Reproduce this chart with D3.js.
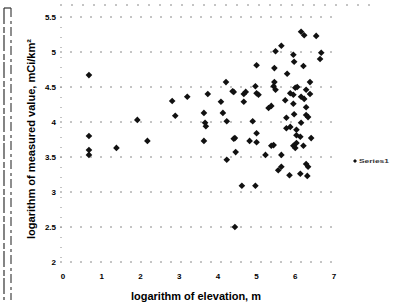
<!DOCTYPE html>
<html>
<head>
<meta charset="utf-8">
<script src="https://cdn.jsdelivr.net/npm/d3@7"></script>
<style>
    body { margin: 0; background: #fff; }
    svg { display: block; }
</style>
</head>
<body>
<div id="vis"></div>
<script>
const elevationLog = [
    0.67, 0.67, 0.67, 0.67, 1.38, 1.92, 2.18, 2.82, 2.90, 3.21,
    3.64, 3.67, 3.69, 3.64, 3.74, 4.08, 4.13, 4.23, 4.21, 4.38,
    4.44, 4.67, 4.67, 4.72, 4.90, 4.82, 5.00, 5.00, 5.00, 4.97,
    5.00, 5.05, 5.31, 4.41, 4.41, 5.38, 5.44, 5.49, 5.74, 5.87,
    6.00, 5.77, 5.87, 6.03, 6.03, 5.44, 6.00, 6.15, 6.23, 6.54,
    5.64, 5.49, 6.67, 5.95, 6.64, 5.97, 6.21, 5.46, 5.79, 5.46,
    6.38, 6.05, 5.95, 6.28, 6.38, 6.15, 6.23, 5.95, 6.28, 5.97,
    6.28, 6.33, 6.15, 5.77, 6.03, 6.13, 6.41, 5.38, 5.95, 6.21,
    4.46, 4.23, 5.23, 5.64, 5.56, 5.64, 5.85, 6.28, 6.33, 6.13,
    6.31, 4.62, 4.97, 4.44
];
const measuredLog = [
    4.67, 3.80, 3.60, 3.53, 3.63, 4.03, 3.73, 4.30, 4.09, 4.36,
    4.13, 3.99, 3.94, 3.73, 4.40, 4.29, 4.13, 4.01, 4.57, 4.44,
    3.77, 4.29, 4.40, 4.43, 4.01, 3.73, 4.81, 3.84, 3.71, 4.51,
    4.41, 4.39, 4.20, 4.43, 3.76, 4.23, 4.51, 4.46, 4.31, 4.41,
    4.49, 4.06, 3.93, 3.89, 3.70, 3.67, 3.63, 5.29, 5.24, 5.23,
    5.09, 5.01, 4.99, 4.96, 4.90, 4.86, 4.80, 4.77, 4.69, 4.57,
    4.57, 4.50, 4.39, 4.46, 4.40, 4.36, 4.33, 4.26, 4.21, 4.11,
    4.10, 4.07, 3.99, 3.91, 3.81, 3.79, 3.77, 3.66, 3.66, 3.66,
    3.57, 3.46, 3.53, 3.53, 3.31, 3.36, 3.24, 3.40, 3.36, 3.26,
    3.23, 3.09, 3.09, 2.50
];
const yTicks = [2, 2.5, 3, 3.5, 4, 4.5, 5, 5.5];
const xTicks = [0, 1, 2, 3, 4, 5, 6, 7];
const seriesName = "Series1";
const xTitle = "logarithm of elevation, m";
const yTitle = "logarithm of measured value, mCi/km²";

const width = 397;
const height = 305;
const black = "#111";
const gridGrey = "#8a8a8a";
const font = "'Liberation Sans Narrow', 'Liberation Sans', Arial, sans-serif";

const svg = d3.select("#vis")
    .append("svg")
    .attr("width", width)
    .attr("height", height)
    .attr("viewBox", `0 0 ${width} ${height}`);

const xScale = d3.scaleLinear()
    .domain([0, 7])
    .range([63, 334]);

const yScale = d3.scaleLinear()
    .domain([2, 5.5])
    .range([262, 17]);

// scanned page edge on the left
svg.append("line")
    .attr("x1", 4).attr("x2", 4)
    .attr("y1", 8).attr("y2", 300)
    .attr("stroke", "#333")
    .attr("stroke-width", 1.2)
    .attr("stroke-dasharray", "16,3,6,2");
svg.append("line")
    .attr("x1", 11).attr("x2", 11)
    .attr("y1", 8).attr("y2", 300)
    .attr("stroke", "#444")
    .attr("stroke-width", 1.2)
    .attr("stroke-dasharray", "9,4,3,3");
svg.append("line")
    .attr("x1", 4).attr("x2", 11)
    .attr("y1", 8).attr("y2", 8)
    .attr("stroke", "#333")
    .attr("stroke-width", 1.2);

// top border of the plot, barely visible
svg.append("line")
    .attr("x1", 60).attr("x2", 378)
    .attr("y1", 5).attr("y2", 5)
    .attr("stroke", gridGrey)
    .attr("stroke-width", 1)
    .attr("stroke-dasharray", "2,9");

// gridlines
svg.selectAll(".grid")
    .data(yTicks)
    .join("line")
        .attr("class", "grid")
        .attr("x1", xScale(0) - 3)
        .attr("x2", xScale(7) + 3)
        .attr("y1", d => yScale(d))
        .attr("y2", d => yScale(d))
        .attr("stroke", gridGrey)
        .attr("stroke-width", 1)
        .attr("stroke-dasharray", "2,8");

// y axis
svg.append("line")
    .attr("x1", xScale(0) - 2).attr("x2", xScale(0) - 2)
    .attr("y1", yScale(5.5)).attr("y2", yScale(2))
    .attr("stroke", gridGrey)
    .attr("stroke-width", 1)
    .attr("stroke-dasharray", "1,9");

svg.selectAll(".ytick")
    .data(yTicks)
    .join("text")
        .attr("class", "ytick")
        .attr("x", xScale(0) - 7)
        .attr("y", d => yScale(d) + 3)
        .attr("text-anchor", "end")
        .style("font-family", font)
        .style("font-size", "8px")
        .style("font-weight", 700)
        .attr("fill", "#000")
        .text(d => d);

svg.selectAll(".xtick")
    .data(xTicks)
    .join("text")
        .attr("class", "xtick")
        .attr("x", d => xScale(d))
        .attr("y", 279)
        .attr("text-anchor", "middle")
        .style("font-family", font)
        .style("font-size", "8px")
        .style("font-weight", 700)
        .attr("fill", "#000")
        .text(d => d);

// axis titles
svg.append("text")
    .attr("x", 196)
    .attr("y", 300)
    .attr("text-anchor", "middle")
    .attr("textLength", 130)
    .attr("lengthAdjust", "spacingAndGlyphs")
    .style("font-family", font)
    .style("font-size", "11.5px")
    .style("font-weight", 700)
    .attr("fill", "#000")
    .text(xTitle);

svg.append("text")
    .attr("transform", "translate(35, 139) rotate(-90)")
    .attr("text-anchor", "middle")
    .attr("textLength", 200)
    .attr("lengthAdjust", "spacingAndGlyphs")
    .style("font-family", font)
    .style("font-size", "11.5px")
    .style("font-weight", 700)
    .attr("fill", "#000")
    .text(yTitle);

// points
const points = elevationLog.map((x, i) => ({ x: x, y: measuredLog[i] }));
const diamond = d3.symbol().type(d3.symbolSquare).size(22);

svg.selectAll(".pt")
    .data(points)
    .join("path")
        .attr("class", "pt")
        .attr("d", diamond)
        .attr("transform", d => `translate(${xScale(d.x)}, ${yScale(d.y)}) rotate(45)`)
        .attr("fill", black);

// legend
const legend = svg.append("g")
    .attr("transform", "translate(355, 161)");

legend.append("path")
    .attr("d", d3.symbol().type(d3.symbolSquare).size(8))
    .attr("transform", "rotate(45)")
    .attr("fill", black);

legend.append("text")
    .attr("x", 4)
    .attr("y", 2)
    .attr("textLength", 30)
    .attr("lengthAdjust", "spacingAndGlyphs")
    .style("font-family", font)
    .style("font-size", "6px")
    .style("font-weight", 700)
    .attr("fill", "#333")
    .text(seriesName);
</script>
</body>
</html>
